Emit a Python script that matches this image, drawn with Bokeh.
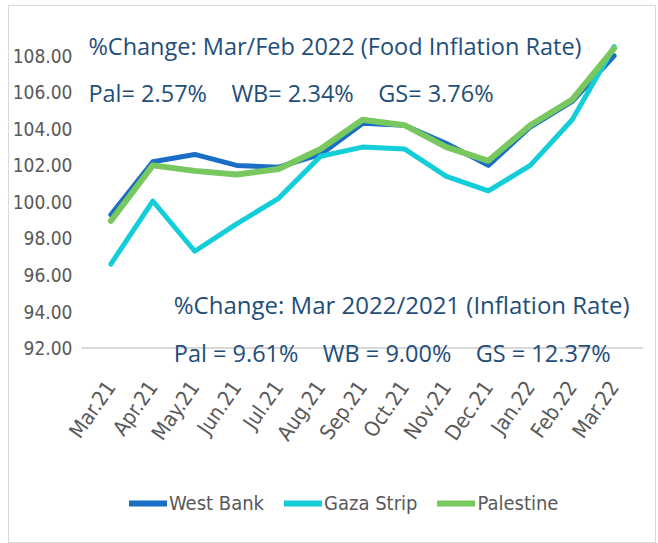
import math
from bokeh.plotting import figure
from bokeh.layouts import column
from bokeh.models import (ColumnDataSource, Label, Legend, LegendItem, FixedTicker,
                          NumeralTickFormatter, Range1d, FactorRange, Span)
from bokeh.embed import file_html
from bokeh.resources import INLINE

months = ["Mar.21", "Apr.21", "May.21", "Jun.21", "Jul.21", "Aug.21", "Sep.21",
          "Oct.21", "Nov.21", "Dec.21", "Jan.22", "Feb.22", "Mar.22"]
west_bank = [99.3, 102.2, 102.6, 102.0, 101.9, 102.6, 104.3, 104.2, 103.2, 102.0, 104.1, 105.5, 108.0]
gaza_strip = [96.6, 100.05, 97.3, 98.8, 100.2, 102.5, 103.0, 102.9, 101.4, 100.6, 102.0, 104.5, 108.5]
palestine = [98.96, 102.0, 101.7, 101.5, 101.8, 102.9, 104.5, 104.2, 103.0, 102.25, 104.2, 105.6, 108.4]
series_names = ["West Bank", "Gaza Strip", "Palestine"]
series_cols = ["wb", "gs", "pal"]
series_colors = ["#1B6EC6", "#13CDD8", "#78C75F"]
y_ticks = [92, 94, 96, 98, 100, 102, 104, 106, 108]
y_base = 92

title_food = "%Change: Mar/Feb 2022 (Food Inflation Rate)"
vals_food = "Pal= 2.57%\u00a0\u00a0\u00a0 WB= 2.34%\u00a0\u00a0\u00a0 GS= 3.76%"
title_infl = "%Change: Mar 2022/2021 (Inflation Rate)"
vals_infl = "Pal = 9.61%\u00a0\u00a0\u00a0 WB = 9.00%\u00a0\u00a0\u00a0 GS = 12.37%"

src = ColumnDataSource(dict(m=months, wb=west_bank, gs=gaza_strip, pal=palestine))

AX_FONT = "Liberation Sans Narrow, DejaVu Sans Condensed, sans-serif"
GRAY = "#595959"
NAVY = "#1F4E79"

p = figure(width=646, height=470, output_backend="svg", toolbar_location=None,
           x_range=FactorRange(*months, range_padding=0.2, range_padding_units="absolute"),
           y_range=Range1d(90.5, 109),
           min_border_left=72, min_border_right=12, min_border_top=31, min_border_bottom=101)
p.outline_line_color = None
p.xgrid.grid_line_color = None
p.ygrid.grid_line_color = None

p.add_layout(Span(location=y_base, dimension="width", line_color="#D9D9D9", line_width=2))

widths = [5, 5, 6]
for col, c, w in zip(series_cols, series_colors, widths):
    p.line("m", col, source=src, color=c, line_width=w, line_join="round", line_cap="round")

yax = p.yaxis[0]
yax.ticker = FixedTicker(ticks=y_ticks)
yax.formatter = NumeralTickFormatter(format="0.00")
yax.axis_line_color = None
yax.major_tick_line_color = None
yax.minor_tick_line_color = None
yax.major_tick_out = 0
yax.major_tick_in = 0
yax.minor_tick_out = 0
yax.major_label_text_font = AX_FONT
yax.major_label_text_font_size = "19px"
yax.major_label_text_color = GRAY
yax.major_label_standoff = 9

xax = p.xaxis[0]
xax.axis_line_color = None
xax.major_tick_line_color = None
xax.minor_tick_line_color = None
xax.major_tick_out = 0
xax.major_tick_in = 0
xax.minor_tick_out = 0
xax.major_label_orientation = math.radians(55)
xax.major_label_text_font = AX_FONT
xax.major_label_text_font_size = "21px"
xax.major_label_text_color = GRAY
xax.major_label_standoff = 8

for txt, x, y, fs in [(title_food, -0.035, 108.55, "23.5px"), (vals_food, -0.035, 105.97, "23.5px"),
                      (title_infl, 2.0, 94.36, "24px"), (vals_infl, 2.0, 91.73, "23.5px")]:
    p.add_layout(Label(x=x, y=y, text=txt, text_font="Open Sans", text_font_size=fs,
                       text_color=NAVY, text_baseline="middle", text_align="left"))

# legend strip (its frame is aligned with the main plot's frame by the column layout)
lg = figure(width=646, height=66, output_backend="svg", toolbar_location=None,
            x_range=FactorRange(*months), y_range=Range1d(0, 1),
            x_axis_location=None, y_axis_location=None,
            min_border_left=0, min_border_right=0, min_border_top=0, min_border_bottom=0)
lg.grid.visible = False
lg.outline_line_color = None
items = []
for name, col, c in zip(series_names, series_cols, series_colors):
    r = lg.line("m", col, source=src, color=c, line_width=6, line_cap="round")
    items.append(LegendItem(label=name, renderers=[r]))
legend = Legend(items=items, orientation="horizontal", location=(48, 27),
                glyph_width=38, glyph_height=20, label_standoff=2, spacing=20, padding=5,
                border_line_color=None, background_fill_alpha=0,
                label_text_font=AX_FONT, label_text_font_size="20px", label_text_color=GRAY)
lg.add_layout(legend, "center")

layout = column(p, lg, spacing=0,
                styles={"border": "1px solid #D9D9D9", "margin-left": "8px", "margin-top": "5px"})

open("out.html", "w").write(file_html(layout, INLINE))
